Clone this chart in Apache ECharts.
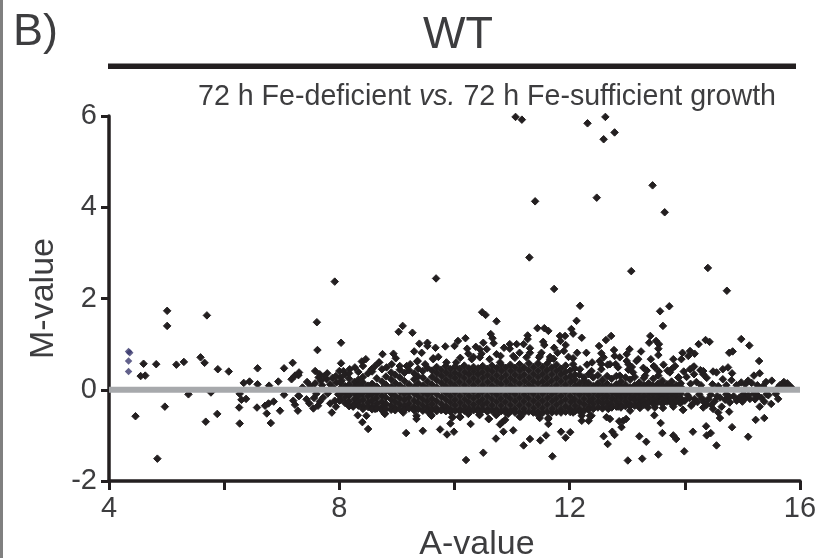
<!DOCTYPE html>
<html>
<head>
<meta charset="utf-8">
<style>html,body{margin:0;padding:0;background:#fff}#c{width:817px;height:558px}</style>
<script src="https://cdn.jsdelivr.net/npm/echarts@6/dist/echarts.min.js"></script>
</head>
<body>
<div id="c"></div>
<script>
const yTickLabels = ['-2','0','2','4','6'];
const xTickLabels = ['4','8','12','16'];

// [A, M] isolated points
const bluePoints = [[4.34,.84],[4.36,.81],[4.34,.63],[4.34,.40]];
const highPoints = [[11.06,5.98],[11.17,5.92],[12.31,5.84],[12.62,5.98],[12.78,5.64],[12.59,5.49],[13.44,4.48],[13.65,3.89],[11.40,4.13],[12.47,4.21],[11.30,2.90],[13.07,2.60],[14.40,2.67],[11.73,2.21],[12.18,1.84],[13.73,1.83],[13.57,1.72],[12.12,1.51],[13.62,1.40],[7.61,1.48],[8.03,1.03],[7.62,.87],[7.92,2.37],[9.68,2.44],[14.73,2.17]];
const leftPoints = [[5.01,1.73],[5.01,1.40],[5.70,1.63],[4.60,.57],[4.82,.56],[5.17,.55],[5.30,.61],[5.59,.71],[5.66,.59],[5.89,.45],[6.08,.40],[4.55,.30],[4.63,.31],[5.38,-.10],[5.77,-.06],[4.97,-.37],[4.46,-.58],[4.84,-1.51],[5.68,-.70],[5.88,-.53],[6.27,-.74],[6.26,-.39],[6.30,-.22],[6.38,-.20],[6.27,-.09],[6.34,.15],[6.44,.18],[6.58,.47],[6.58,.12],[6.78,.09],[6.94,.18],[7.04,.47],[7.19,.59],[7.17,.23],[7.23,.31],[7.29,.32],[6.57,-.39],[6.71,-.35],[6.77,-.30],[6.86,-.26],[6.74,-.52],[6.97,-.46],[6.81,-.73],[7.04,-.11],[7.20,-.24],[7.23,-.33],[7.28,-.46],[7.29,-.13],[7.30,.38],[7.44,.17],[7.58,.41],[7.66,.34],[7.79,.36],[7.64,.27],[7.58,.14],[7.78,.23],[7.84,.12],[8.00,.41],[8.03,.58],[7.95,.16],[8.04,.20],[7.30,-.14],[7.43,-.21],[7.56,-.18],[7.55,-.41],[7.63,-.35],[7.72,-.17],[7.87,-.50],[7.94,-.37],[7.92,-.24],[8.00,-.24],[7.36,.05],[7.50,.08],[7.70,.10],[7.90,.03],[7.74,.30],[7.68,.20],[7.88,.26],[7.94,.30],[7.80,-.08],[7.66,-.26],[7.84,-.30],[7.60,-.09],[7.98,-.10],[7.48,-.30]];
const upperPoints = [[10.48,1.70],[10.54,1.64],[10.73,1.50],[9.10,1.40],[9.03,1.27],[9.27,1.25],[9.39,1.01],[9.53,1.03],[9.53,.96],[9.30,.84],[9.43,.81],[9.67,.92],[9.84,.95],[10.00,.96],[10.06,1.07],[10.19,1.13],[10.22,.90],[10.24,.79],[10.37,.94],[10.44,.89],[10.50,1.03],[10.56,.89],[10.47,.79],[10.63,1.22],[10.66,1.13],[10.68,1.02],[10.86,.92],[10.96,1.00],[11.08,1.00],[10.96,.90],[10.73,.78],[10.80,.74],[8.75,.78],[8.94,.79],[8.98,.69],[8.69,.60],[9.63,.69],[9.36,.63],[11.13,.81],[11.44,1.35],[11.56,1.35],[11.63,1.29],[11.27,1.19],[11.27,1.11],[11.20,1.00],[11.54,1.05],[11.56,.98],[11.31,.91],[11.31,.81],[11.51,.81],[11.47,.71],[11.83,1.18],[11.92,1.18],[11.84,1.07],[11.93,.98],[12.03,1.33],[12.06,1.23],[12.21,1.14],[11.73,.92],[11.79,.81],[11.90,.85],[12.13,.81],[12.29,.81],[12.06,.69],[12.39,.60],[12.51,.96],[12.63,1.09],[12.72,1.18],[12.55,.80],[12.59,.71],[12.77,.87],[12.78,.74],[13.04,.89],[12.99,.78],[13.24,.84],[12.52,.63],[12.87,.71],[12.99,.63],[13.19,.67],[13.40,1.18],[13.38,1.03],[13.50,1.07],[13.55,1.00],[13.54,.90],[13.54,.76],[13.41,.67],[13.63,.55],[13.46,.52],[11.66,.72],[11.98,.72],[12.30,.55],[12.66,.55],[12.80,.56],[13.08,.50],[13.28,.48],[13.02,.44],[13.34,.42],[13.55,.40],[13.70,.42],[9.72,.72],[10.10,.70],[10.33,.72],[11.05,.70],[11.72,.68]];
const rightPoints = [[14.98,1.11],[15.12,.97],[14.36,1.09],[14.43,1.05],[14.24,1.00],[14.77,.81],[14.83,.84],[15.29,.63],[14.09,.85],[13.96,.81],[14.17,.79],[14.06,.74],[13.94,.67],[13.80,.67],[13.83,.52],[13.77,.45],[14.16,.51],[14.09,.45],[14.27,.43],[14.32,.34],[14.16,.34],[14.49,.40],[14.55,.38],[14.66,.45],[14.75,.49],[14.82,.36],[14.66,.23],[14.81,.21],[14.98,.16],[15.10,.20],[15.20,.31],[15.30,.36],[15.41,.17],[15.51,.20],[14.38,.26],[14.20,.17],[14.03,.28],[13.89,.27],[13.98,.40],[14.10,.13],[14.28,.10],[14.48,.12],[14.58,.08],[14.72,.10],[14.90,.10],[15.05,.12],[15.16,.15],[15.26,.10],[15.36,.08],[15.65,.10],[15.72,.17],[15.78,.14],[15.72,.08],[15.82,.08],[15.85,.05],[15.62,.05],
[14.32,-.39],[14.38,-.33],[13.97,-.44],[14.11,-.35],[13.80,-.32],[15.30,-.37],[15.50,-.31],[15.62,-.20],[15.33,-.18],[15.13,-.20],[14.95,-.17],[14.78,-.28],[14.41,-.20],[14.61,-.17],[14.17,-.20],[13.91,-.28],[14.77,-.48],[14.61,-.62],[14.58,-.50],[14.49,-.42],[14.64,-.37],[14.05,-.12],[14.25,-.10],[14.45,-.11],[14.72,-.10],[14.85,-.14],[15.02,-.10],[15.20,-.09],[15.42,-.10],[15.58,-.09],[14.00,-.24],[14.22,-.27],[14.30,-.19],[14.52,-.25],[14.70,-.22],[14.90,-.24],[15.05,-.18],[15.22,-.21],[15.45,-.12],[14.14,-.30],[14.34,-.28],[14.46,-.33],[14.08,-.18],[14.56,-.14],[14.78,-.16],[15.00,-.26],[15.10,-.12],[15.27,-.13],[15.38,-.26]];
const lowerPoints = [[11.20,-1.22],[11.31,-1.08],[11.49,-1.11],[11.59,-1.00],[11.70,-1.46],[11.85,-.92],[11.93,-1.05],[12.01,-.93],[12.59,-1.02],[12.74,-.92],[12.78,-.99],[12.66,-1.19],[13.21,-1.02],[13.33,-1.14],[13.61,-.95],[13.58,-.73],[13.47,-.56],[13.01,-1.55],[13.26,-1.51],[13.54,-1.42],[12.90,-.82],[12.93,-.68],[12.86,-.69],[12.98,-.64],[12.64,-.60],[12.70,-.64],[12.33,-.68],[12.21,-.68],[12.38,-.57],[11.63,-.75],[11.63,-.64],[11.48,-.62],[11.15,-.59],[9.16,-.95],[9.45,-.90],[9.75,-.87],[9.87,-.98],[9.99,-.92],[10.20,-1.54],[10.50,-1.38],[10.72,-1.07],[10.85,-.92],[11.02,-.89],[10.28,-.75],[9.93,-.74],[9.97,-.60],[10.10,-.60],[10.60,-.64],[10.83,-.71],[10.79,-.76],[10.88,-.66],[10.43,-.55],[10.72,-.55],[9.34,-.64],[9.59,-.55],[8.79,-.52],[8.50,-.86],[8.40,-.71],[8.32,-.56],[8.47,-.57],[8.24,-.35],[13.80,-1.00],[13.85,-1.08],[13.99,-1.35],[14.14,-.92],[14.37,-.80],[14.45,-.95],[14.38,-1.00],[14.55,-1.22],[14.82,-.82],[15.10,-1.03],[15.23,-.66],[15.38,-.62]];
// lumps along the edge of the black band
const ringPoints = [[8.39,.62],[8.46,.67],[8.69,.60],[8.18,.45],[8.56,.45],[8.82,.49],[9.23,.56],[9.35,.62],[9.63,.67],[9.05,.52],[8.41,.52],[8.27,.49],[8.07,.41],[8.62,.52],[8.91,.56],[9.17,.52],[9.49,.56],[9.86,.60],[10.03,.60],[10.30,.67],[10.44,.71],[10.61,.67],[10.79,.60],[11.02,.74],[11.25,.71],[11.48,.74],[11.66,.67],
[8.79,-.53],[8.24,-.37],[8.62,-.42],[8.97,-.42],[9.11,-.50],[9.34,-.57],[9.60,-.57],[9.80,-.42],[9.96,-.60],[10.09,-.59],[10.24,-.53],[10.44,-.55],[10.59,-.64],[10.73,-.55],[10.93,-.53],[11.13,-.59],[11.45,-.55],[11.63,-.62],
[12.55,.45],[12.87,.31],[13.10,.38],[13.31,.31],[13.54,.31],[13.74,.38],[13.89,.27],[14.14,.49],[14.32,.41],[12.18,.45],[12.38,.41],[12.06,.56],[12.55,.56],[12.70,.56],[12.84,.49],[13.02,.56],[13.16,.63],[13.48,.49],
[12.06,-.50],[12.21,-.57],[12.35,-.57],[12.67,-.42],[13.05,-.46],[13.22,-.40],[13.48,-.39],[13.62,-.40],[13.97,-.44],[12.84,-.37],[13.36,-.39],[13.80,-.37]];

// dense cloud: [A, M, M, ...] columns read by eye from the black band
const band8 = [[8.02,.27,.15,.03,-.09,-.22],[8.10,.33,.08,-.05,-.16,-.29],[8.17,.36,.24,.11,-.02,-.12,-.26,-.36],[8.26,.17,.06,-.07,-.20,-.33],[8.33,.39,.22,.10,-.03,-.14,-.27,-.35],[8.41,.28,.16,.04,-.09,-.21,-.34,-.42],[8.50,.36,.09,-.05,-.15,-.28,-.38],[8.57,.40,.13,.01,-.11,-.24,-.36,-.43],[8.65,.25,.07,-.06,-.18,-.30,-.41],[8.74,.45,.18,.02,-.12,-.25,-.37,-.45],[8.81,.29,.11,-.03,-.17,-.31,-.42],[8.90,.38,.23,.06,-.08,-.21,-.34,-.44],[8.97,.33,.15,.01,-.13,-.26,-.39,-.45]];
const band9 = [[9.05,.44,.27,.09,-.04,-.18,-.31,-.42],[9.13,.37,.19,.03,-.10,-.23,-.36,-.44],[9.21,.43,.12,-.05,-.17,-.30,-.41],[9.30,.36,.23,.06,-.09,-.24,-.37,-.45],[9.37,.46,.29,.14,.00,-.14,-.28,-.42],[9.45,.41,.27,.09,-.06,-.20,-.34,-.46],[9.53,.48,.18,.03,-.12,-.26,-.39,-.47],[9.61,.42,.28,.11,-.05,-.19,-.33,-.44],[9.69,.50,.36,.21,.05,-.10,-.25,-.40,-.47],[9.77,.44,.30,.15,.00,-.16,-.31,-.45],[9.85,.52,.38,.23,.08,-.07,-.22,-.37,-.47],[9.93,.45,.31,.16,.02,-.13,-.28,-.42,-.48]];
const band10 = [[10.01,.51,.38,.24,.09,-.06,-.21,-.35,-.46],[10.09,.46,.32,.17,.02,-.13,-.28,-.43,-.47],[10.17,.53,.39,.25,.10,-.05,-.20,-.35,-.46],[10.25,.47,.33,.18,.03,-.12,-.27,-.41,-.48],[10.33,.50,.40,.26,.11,-.04,-.19,-.34,-.45],[10.41,.47,.33,.18,.03,-.12,-.27,-.41,-.47],[10.49,.52,.39,.25,.10,-.05,-.20,-.34,-.44],[10.57,.46,.32,.17,.02,-.13,-.28,-.42,-.48],[10.65,.53,.40,.25,.10,-.05,-.20,-.35,-.46],[10.73,.47,.33,.18,.03,-.12,-.27,-.42,-.49],[10.81,.55,.41,.26,.11,-.04,-.19,-.34,-.47],[10.89,.48,.33,.18,.03,-.12,-.27,-.42,-.50],[10.97,.55,.41,.26,.11,-.04,-.19,-.34,-.47]];
const band11 = [[11.05,.48,.34,.19,.04,-.11,-.26,-.41,-.50],[11.13,.56,.42,.27,.12,-.03,-.18,-.33,-.48],[11.21,.49,.34,.19,.04,-.11,-.26,-.41,-.50],[11.29,.58,.43,.27,.12,-.03,-.18,-.33,-.48],[11.37,.50,.35,.20,.05,-.10,-.25,-.40,-.50],[11.45,.58,.43,.28,.13,-.02,-.17,-.32,-.47],[11.53,.50,.35,.20,.05,-.10,-.25,-.40,-.51],[11.61,.57,.42,.27,.12,-.03,-.18,-.33,-.48],[11.69,.48,.34,.19,.04,-.11,-.26,-.41,-.50],[11.77,.55,.41,.26,.11,-.04,-.19,-.34,-.49],[11.85,.46,.33,.18,.03,-.12,-.27,-.42,-.50],[11.93,.53,.39,.25,.10,-.05,-.20,-.35,-.48]];
const band12 = [[12.01,.42,.30,.17,.02,-.13,-.27,-.41,-.49],[12.09,.47,.33,.23,.09,-.05,-.20,-.34,-.47],[12.17,.33,.15,.02,-.12,-.27,-.41,-.47],[12.25,.27,.21,.08,-.05,-.19,-.33,-.46],[12.33,.34,.15,.02,-.12,-.26,-.39,-.44],[12.41,.27,.08,-.05,-.19,-.32,-.42],[12.49,.32,.14,.01,-.12,-.26,-.39],[12.57,.22,.07,-.06,-.19,-.32,-.41],[12.65,.30,.13,.00,-.13,-.25,-.38],[12.73,.24,.06,-.06,-.19,-.31,-.39],[12.81,.30,.12,.00,-.12,-.25,-.37],[12.89,.18,.06,-.06,-.18,-.31,-.39],[12.97,.27,.11,.00,-.12,-.24,-.36]];
const band13 = [[13.05,.22,.05,-.06,-.18,-.30,-.36],[13.13,.28,.10,.00,-.12,-.23,-.35],[13.21,.16,.05,-.06,-.18,-.29,-.34],[13.29,.26,.10,.00,-.12,-.23,-.33],[13.37,.14,.04,-.06,-.17,-.28],[13.45,.24,.09,.00,-.11,-.22,-.31],[13.53,.13,.03,-.06,-.17,-.27],[13.61,.20,.08,.00,-.11,-.21,-.31],[13.69,.12,.03,-.06,-.16,-.26],[13.77,.18,.07,.00,-.10,-.20,-.30],[13.85,.10,.02,-.06,-.15,-.25],[13.93,.14,.06,.00,-.09,-.19,-.29]];

function columns(rows){const out=[];for(const r of rows){for(let i=1;i<r.length;i++)out.push([r[0],r[i]]);}return out;}
const blackPoints = [].concat(highPoints,leftPoints,upperPoints,rightPoints,lowerPoints,ringPoints,columns(band8),columns(band9),columns(band10),columns(band11),columns(band12),columns(band13));

const baseline = [[4,0],[16,0]];
const ink='#231f20', text='#3d3d3f';
const chart=echarts.init(document.getElementById('c'),null,{renderer:'canvas'});
chart.setOption({
  animation:false,
  backgroundColor:'#fff',
  textStyle:{fontFamily:'"Liberation Sans",Arial,sans-serif'},
  title:[
    {text:'B)',left:8,top:5,textStyle:{fontSize:45,fontWeight:'normal',color:text,fontFamily:'"Liberation Sans"'}},
    {text:'WT',left:418,top:8,textStyle:{fontSize:45,fontWeight:'normal',color:text,fontFamily:'"Liberation Sans"'}},
    {text:'{a|72 h Fe-deficient }{b|vs.}{a| 72 h Fe-sufficient growth}',left:193,top:78,
     textStyle:{fontWeight:'normal',rich:{a:{fontSize:28.6,fontWeight:'normal',color:text,fontFamily:'"Liberation Sans"'},b:{fontSize:28.6,fontWeight:'normal',fontStyle:'italic',color:text,fontFamily:'"Liberation Sans"'}}}}
  ],
  graphic:[
    {type:'rect',shape:{x:0,y:0,width:3,height:558},style:{fill:'#808080'},silent:true},
    {type:'rect',shape:{x:108,y:63.5,width:688,height:5.5},style:{fill:ink},silent:true}
  ],
  grid:{left:109,right:17,top:116,bottom:77,containLabel:false,outerBoundsMode:'none'},
  xAxis:{type:'value',min:4,max:16,interval:2,
    name:'A-value',nameLocation:'middle',nameGap:47,
    nameTextStyle:{fontSize:34,color:text,padding:[0,0,0,45]},
    axisLine:{show:true,onZero:false,lineStyle:{color:ink,width:3.5}},
    axisTick:{show:true,length:9,lineStyle:{color:ink,width:3}},
    splitLine:{show:false},
    axisLabel:{fontSize:29,color:text,margin:13,showMaxLabel:true,showMinLabel:true,
      formatter:v=>xTickLabels.includes(String(v))?String(v):''}},
  yAxis:{type:'value',min:-2,max:6,interval:2,
    name:'M-value',nameLocation:'middle',nameGap:41,
    nameTextStyle:{fontSize:34,color:text,padding:[0,0,6,0]},
    axisLine:{show:true,onZero:false,lineStyle:{color:ink,width:3.5}},
    axisTick:{show:true,length:8,lineStyle:{color:ink,width:3}},
    splitLine:{show:false},
    axisLabel:{fontSize:29,color:text,margin:12,padding:[0,0,6,0],showMaxLabel:true,showMinLabel:true,
      formatter:v=>yTickLabels.includes(String(v))?String(v):''}},
  series:[
    {name:'genes',type:'scatter',symbol:'diamond',symbolSize:7.5,data:blackPoints,itemStyle:{color:ink,borderColor:ink,borderWidth:1,opacity:1},clip:false,z:3,large:false,silent:true},
    {name:'low A',type:'scatter',symbol:'diamond',symbolSize:7.5,data:bluePoints,itemStyle:{color:'#3b3a6e'},clip:false,z:3,silent:true},
    {name:'M = 0',type:'line',data:baseline,symbol:'none',lineStyle:{color:'#a7a9ac',width:6,cap:'butt'},z:4,silent:true}
  ]
});
</script>
</body>
</html>
